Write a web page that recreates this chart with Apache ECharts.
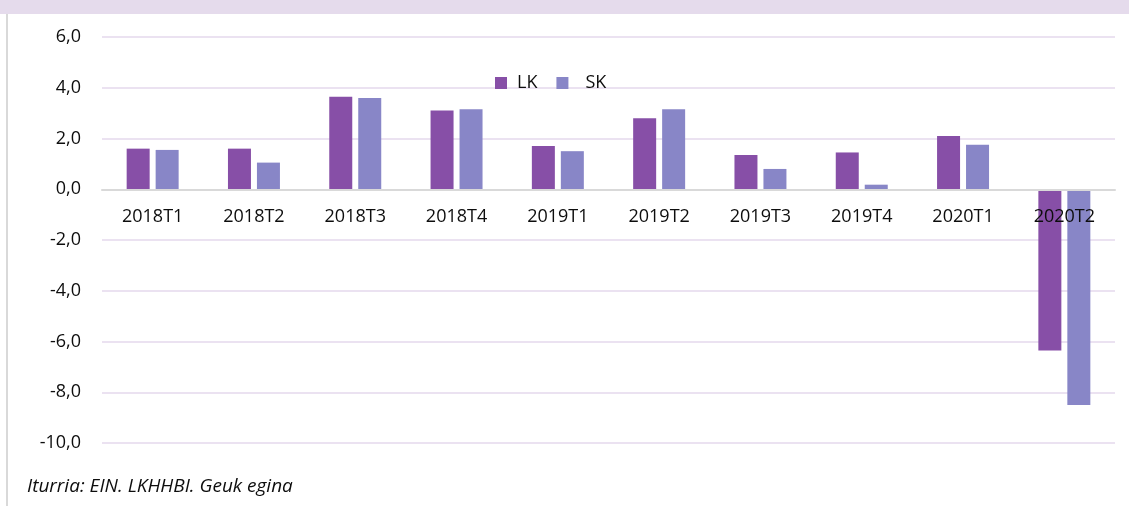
<!DOCTYPE html>
<html>
<head>
<meta charset="utf-8">
<script src="https://cdn.jsdelivr.net/npm/echarts@6/dist/echarts.min.js"></script>
<style>
html,body{margin:0;padding:0;background:#fff;}
#chart{width:1129px;height:506px;}
</style>
</head>
<body>
<div id="chart"></div>
<script>
var categories = ['2018T1','2018T2','2018T3','2018T4','2019T1','2019T2','2019T3','2019T4','2020T1','2020T2'];
var lkValues = [1.6, 1.6, 3.65, 3.1, 1.7, 2.8, 1.35, 1.45, 2.1, -6.35];
var skValues = [1.55, 1.05, 3.6, 3.15, 1.5, 3.15, 0.8, 0.18, 1.75, -8.5];
var seriesNames = ['LK', 'SK'];
var footnote = 'Iturria: EIN. LKHHBI. Geuk egina';

var FONT = 'Open Sans';
var GRID_TOP = 37, GRID_BOTTOM = 63, Y_MIN = -10, Y_MAX = 6;
var plotH = 506 - GRID_TOP - GRID_BOTTOM;
// shift the category axis (line + labels) up so it sits on the zero value
var zeroOffset = -plotH * (0 - Y_MIN) / (Y_MAX - Y_MIN);

var chart = echarts.init(document.getElementById('chart'), null, {renderer: 'canvas'});
chart.setOption({
  animation: false,
  backgroundColor: '#ffffff',
  graphic: [
    {type: 'rect', shape: {x: 0, y: 0, width: 1129, height: 14}, style: {fill: '#e5dbec'}, silent: true},
    {type: 'rect', shape: {x: 6, y: 14, width: 2, height: 492}, style: {fill: '#d9d9d9'}, silent: true},
    {type: 'text', left: 27, top: 477, style: {text: footnote, font: 'italic 19px "Open Sans"', fill: '#0d0d0d'}}
  ],
  legend: {
    left: 490, top: 69,
    itemWidth: 12, itemHeight: 12, itemGap: 19,
    icon: 'rect',
    textStyle: {fontFamily: FONT, fontSize: 18, color: '#0d0d0d', lineHeight: 18},
    data: [
      {name: seriesNames[0], textStyle: {padding: [0, 0, 0, 5]}},
      {name: seriesNames[1], textStyle: {padding: [0, 0, 0, 12]}}
    ]
  },
  grid: {left: 102, right: 14, top: GRID_TOP, bottom: GRID_BOTTOM, containLabel: false},
  xAxis: {
    type: 'category',
    data: categories,
    position: 'bottom',
    offset: zeroOffset,
    z: 10,
    axisLine: {onZero: false, lineStyle: {color: '#d9d9d9', width: 2}},
    axisTick: {show: false},
    axisLabel: {fontFamily: FONT, fontSize: 18, color: '#0d0d0d', margin: 19},
    splitLine: {show: false}
  },
  yAxis: {
    type: 'value',
    min: Y_MIN, max: Y_MAX, interval: 2,
    z: 0,
    axisLine: {show: false},
    axisTick: {show: false},
    axisLabel: {
      fontFamily: FONT, fontSize: 18, color: '#0d0d0d', margin: 21,
      formatter: function (v) { return v.toFixed(1).replace('.', ','); }
    },
    splitLine: {lineStyle: {color: '#ebe2f1', width: 2}}
  },
  series: [
    {name: seriesNames[0], type: 'bar', data: lkValues, barWidth: 23, barGap: '26%', z: 2,
     itemStyle: {color: '#874fa7'}},
    {name: seriesNames[1], type: 'bar', data: skValues, barWidth: 23, barGap: '26%', z: 2,
     itemStyle: {color: '#8886c7'}}
  ]
});
</script>
</body>
</html>
